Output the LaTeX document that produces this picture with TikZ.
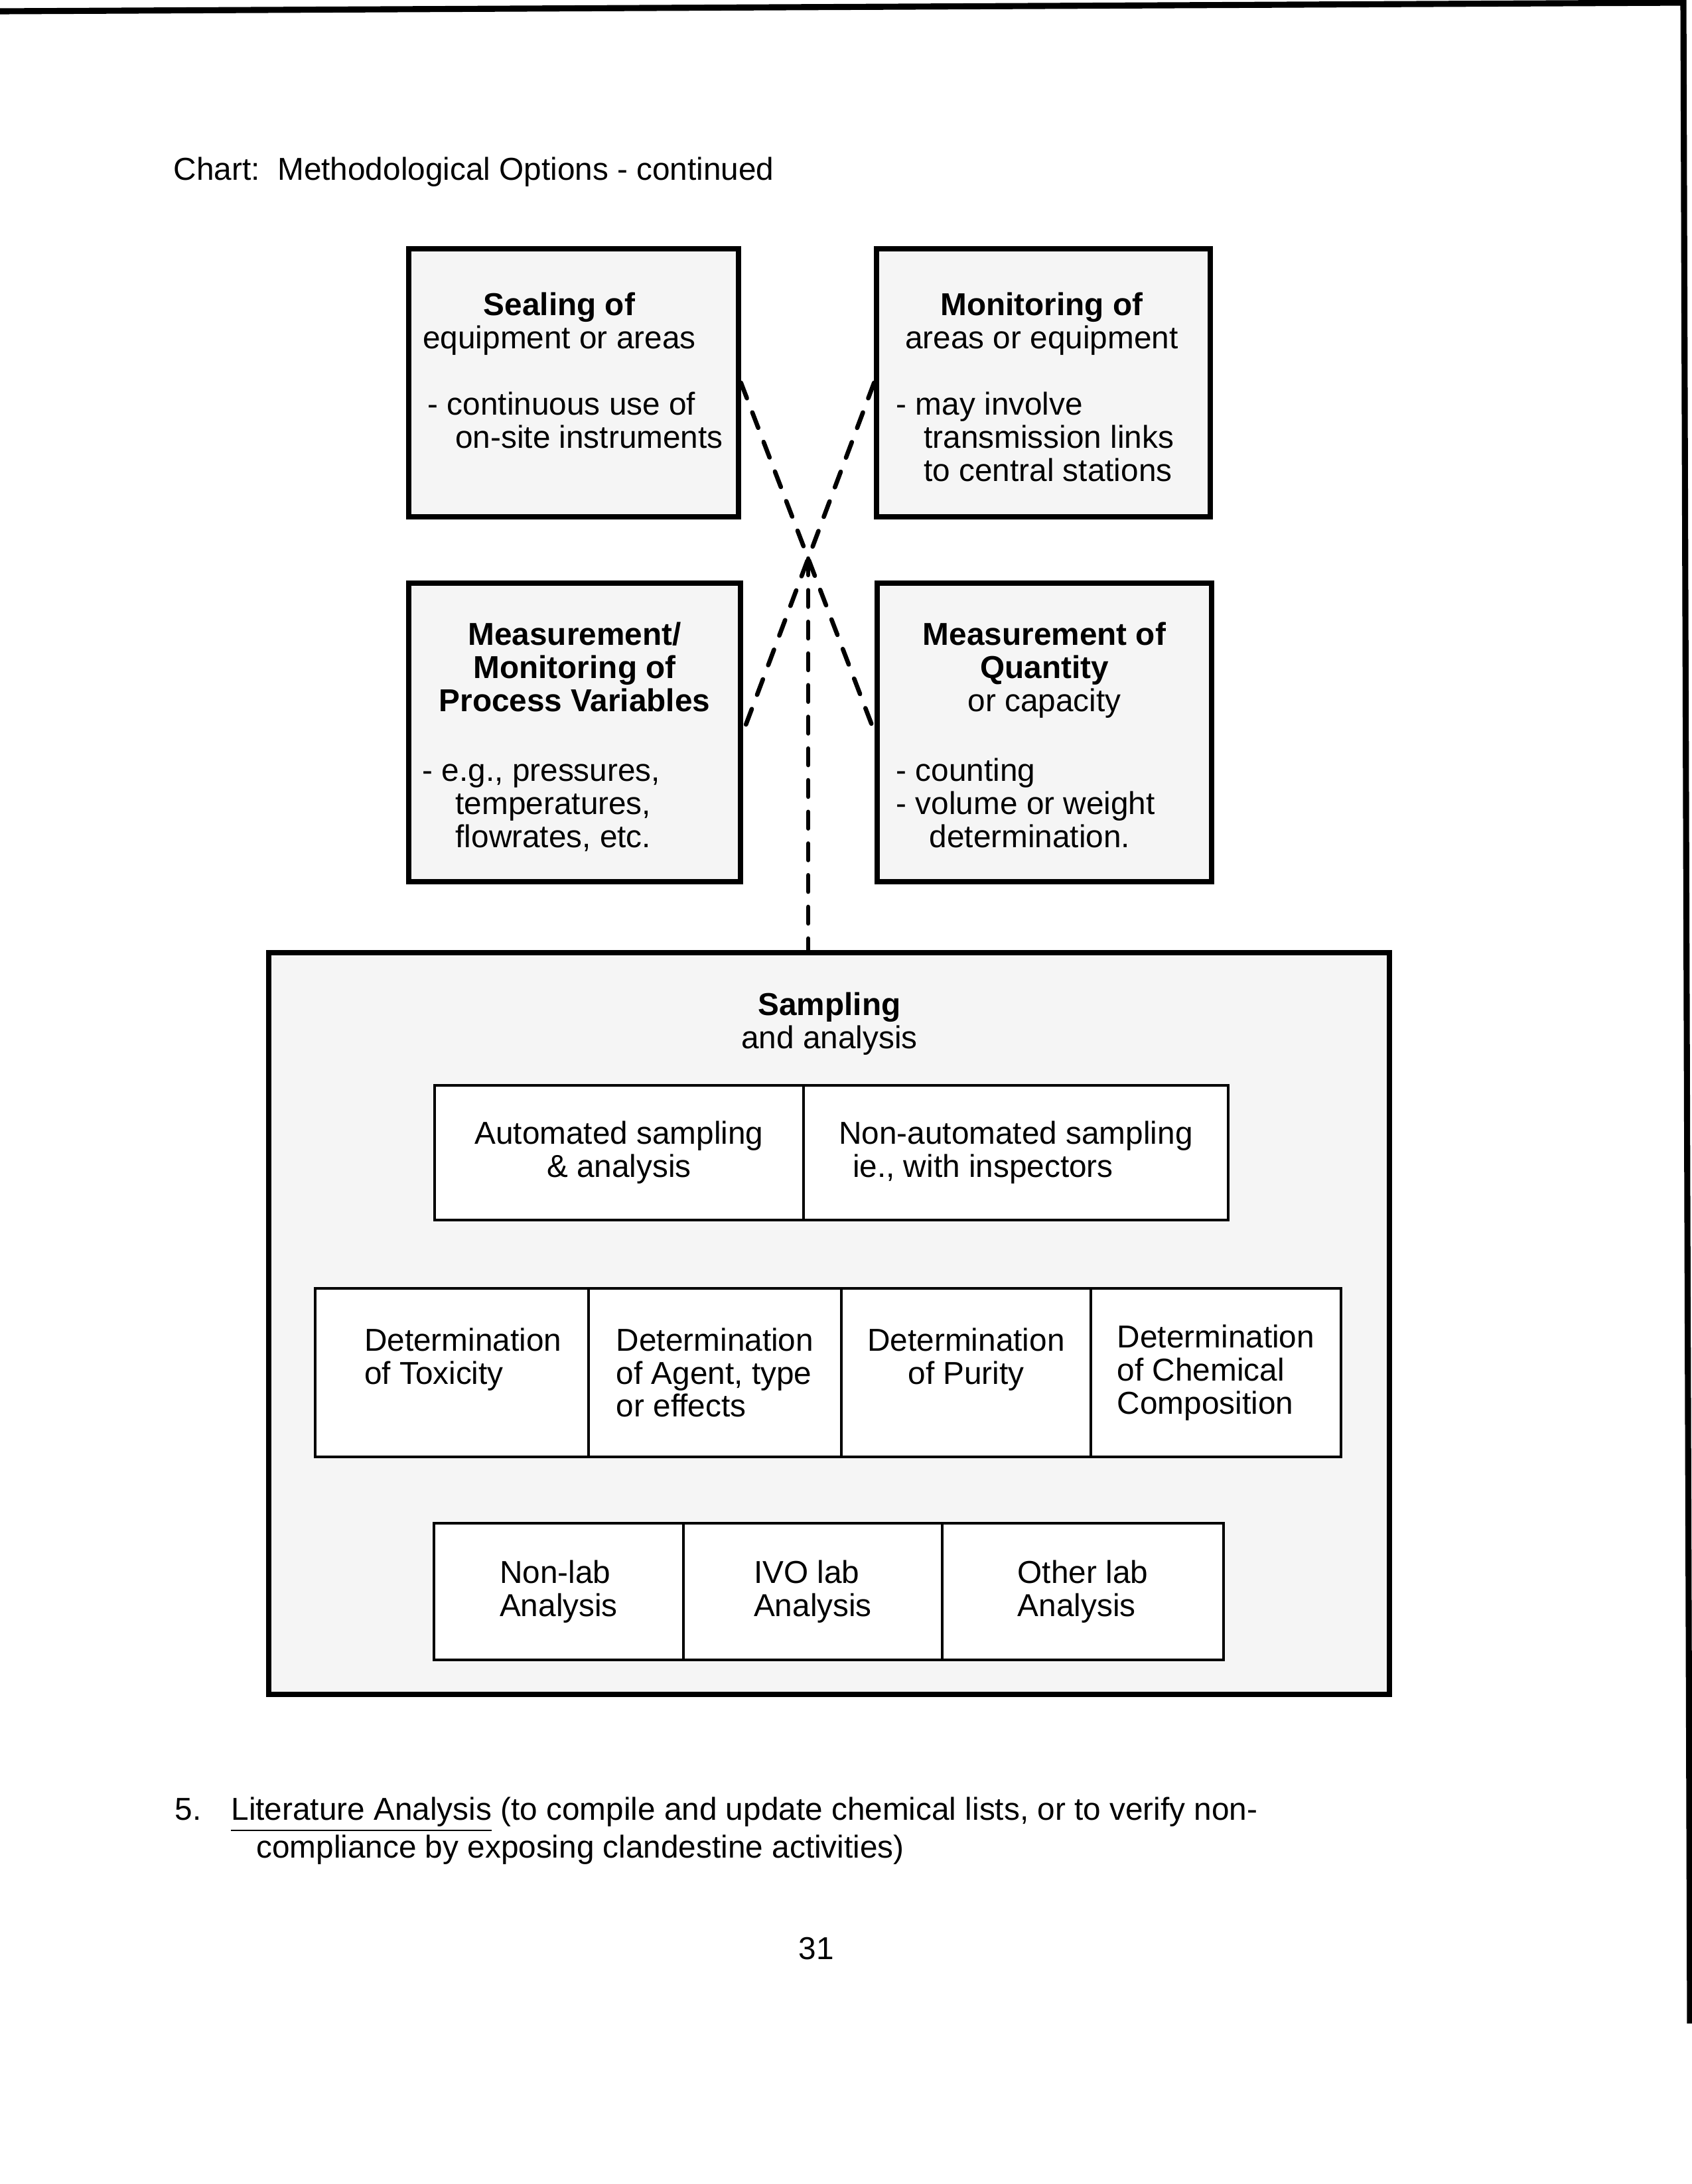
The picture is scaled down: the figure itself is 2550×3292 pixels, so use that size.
\documentclass[tikz,border=0pt]{standalone}
\usepackage{fontspec}
\setmainfont{Liberation Sans}
\newcommand\pxl{0.0846667mm}
\newcommand\txt{\fontsize{11.5}{12}\selectfont}

\begin{document}
\begin{tikzpicture}[
    x=0.0846667mm, y=-0.0846667mm,
    B/.style={rectangle, draw, line width=1.8pt, fill=black!4, inner sep=0pt},
    C/.style={rectangle, draw, line width=1.1pt, fill=white, font=\txt, inner sep=0pt, align=#1},
    C/.default=left,
    T/.style={font=\txt, align=center, anchor=base, inner sep=0pt},
    L/.style={font=\txt, align=left, anchor=base west, inner sep=0pt},
    D/.style={line width=1.6pt, line cap=round, dash pattern=on 6pt off 5.5pt}
]
\useasboundingbox (0,0) rectangle (2550,3292);

% page edge
\draw[line width=2.2pt] (0,17) -- (2537,4) -- (2547,3050);

\node[L] (title) at (261,271) {Chart:~~Methodological Options - continued};

% === TOP OPTIONS ===
\node[B, minimum width=497*\pxl, minimum height=404*\pxl] (seal) at (864.5,577) {};
\node[B, minimum width=503*\pxl, minimum height=404*\pxl] (mon) at (1572.5,577) {};
\node[B, minimum width=500*\pxl, minimum height=450*\pxl] (mm) at (866,1104) {};
\node[B, minimum width=504*\pxl, minimum height=450*\pxl] (qty) at (1574,1104) {};

% (base = last line)
\node[T] (sealT) at (843,525) {\textbf{Sealing of}\\equipment or areas};
\node[L] (sealL) at (644,675) {-~continuous use of\\\hspace*{10pt}on-site instruments};

\node[T] (monT) at (1570,525) {\textbf{Monitoring of}\\areas or equipment};
\node[L] (monL) at (1350,725) {-~may involve\\\hspace*{10pt}transmission links\\\hspace*{10pt}to central stations};

\node[T, font=\txt\bfseries] (mmT) at (866,1072) {Measurement/\\Monitoring of\\Process Variables};
\node[L] (mmL) at (636,1277) {-~e.g., pressures,\\\hspace*{12pt}temperatures,\\\hspace*{12pt}flowrates, etc.};

\node[T] (qtyT) at (1574,1072) {\textbf{Measurement of}\\\textbf{Quantity}\\or capacity};
\node[L] (qtyL) at (1350,1277) {-~counting\\-~volume or weight\\\hspace*{12pt}determination.};

% === SAMPLING AND ANALYSIS ===
\node[B, minimum width=1689*\pxl, minimum height=1118*\pxl] (samp) at (1249.5,1995) {};
\node[T] (sampT) at (1250,1580) {\textbf{Sampling}\\and analysis};

\node[C=center, minimum width=556*\pxl, minimum height=203*\pxl] (auto) at (933,1737.5) {Automated sampling\\\& analysis};
\node[C, minimum width=640*\pxl, minimum height=203*\pxl] (manual) at (1531,1737.5) {Non-automated sampling\\\hspace*{5pt}ie., with inspectors};

\node[C, minimum width=412*\pxl, minimum height=254*\pxl] (tox) at (681,2069) {\hspace*{8pt}Determination\\\hspace*{8pt}of Toxicity\\\mbox{}};
\node[C, minimum width=381*\pxl, minimum height=254*\pxl] (agent) at (1077.5,2069) {Determination\\of Agent, type\\or effects};
\node[C=center, minimum width=376*\pxl, minimum height=254*\pxl] (purity) at (1456,2069) {Determination\\of Purity\\\mbox{}};
\node[C, minimum width=377*\pxl, minimum height=254*\pxl] (chem) at (1832.5,2069) {Determination\\of Chemical\\Composition};

\node[C, minimum width=376*\pxl, minimum height=206*\pxl] (nonlab) at (842,2399) {Non-lab\\Analysis};
\node[C, minimum width=390*\pxl, minimum height=206*\pxl] (ivo) at (1225,2399) {IVO lab\\Analysis};
\node[C, minimum width=424*\pxl, minimum height=206*\pxl] (other) at (1632,2399) {Other lab\\Analysis};

% dashed links
\coordinate (cross) at (intersection of seal.east--qty.west and mon.west--mm.east);
\draw[D] (seal.east) -- (qty.west);
\draw[D] (mon.west) -- (mm.east);
\draw[D] (cross) -- (cross |- samp.north);

% === BOTTOM TEXT ===
\node[L] (lit) at (263,2800) {5.\hspace{10.8pt}\underline{Literature Analysis} (to compile and update chemical lists, or to verify non-\\\hspace*{29.5pt}compliance by exposing clandestine activities)};
\node[T] (pnum) at (1230,2953) {31};

\end{tikzpicture}
\end{document}
